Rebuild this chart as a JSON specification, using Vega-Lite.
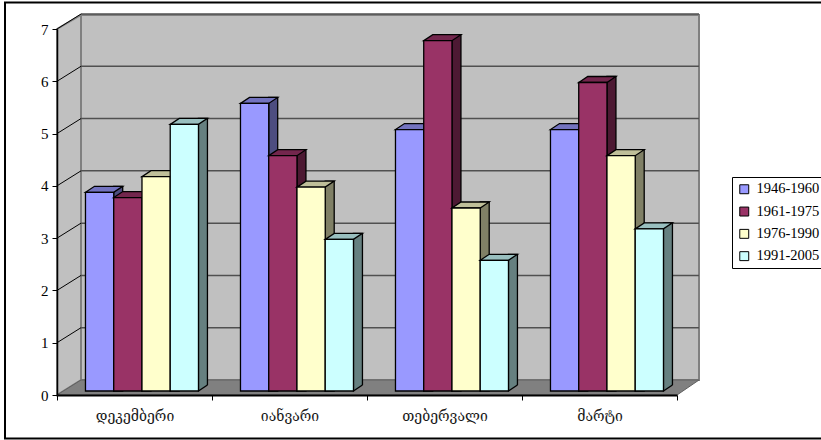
{
  "$schema": "https://vega.github.io/schema/vega-lite/v6.json",
  "width": 620,
  "height": 366,
  "autosize": "none",
  "padding": {"left": 57, "top": 29, "right": 144, "bottom": 45},
  "background": "white",
  "view": {"stroke": null},
  "config": {"font": "Liberation Serif"},
  "datasets": {
    "rain": [
      {"month": "დეკემბერი", "period": "1946-1960", "value": 3.8},
      {"month": "დეკემბერი", "period": "1961-1975", "value": 3.7},
      {"month": "დეკემბერი", "period": "1976-1990", "value": 4.1},
      {"month": "დეკემბერი", "period": "1991-2005", "value": 5.1},
      {"month": "იანვარი", "period": "1946-1960", "value": 5.5},
      {"month": "იანვარი", "period": "1961-1975", "value": 4.5},
      {"month": "იანვარი", "period": "1976-1990", "value": 3.9},
      {"month": "იანვარი", "period": "1991-2005", "value": 2.9},
      {"month": "თებერვალი", "period": "1946-1960", "value": 5.0},
      {"month": "თებერვალი", "period": "1961-1975", "value": 6.7},
      {"month": "თებერვალი", "period": "1976-1990", "value": 3.5},
      {"month": "თებერვალი", "period": "1991-2005", "value": 2.5},
      {"month": "მარტი", "period": "1946-1960", "value": 5.0},
      {"month": "მარტი", "period": "1961-1975", "value": 5.9},
      {"month": "მარტი", "period": "1976-1990", "value": 4.5},
      {"month": "მარტი", "period": "1991-2005", "value": 3.1}
    ],
    "anchor": [{"month": "დეკემბერი", "value": 0}],
    "levels": [
      {"month": "დეკემბერი", "value": 1},
      {"month": "დეკემბერი", "value": 2},
      {"month": "დეკემბერი", "value": 3},
      {"month": "დეკემბერი", "value": 4},
      {"month": "დეკემბერი", "value": 5},
      {"month": "დეკემბერი", "value": 6},
      {"month": "დეკემბერი", "value": 7}
    ]
  },
  "encoding": {
    "x": {
      "field": "month",
      "type": "nominal",
      "sort": null,
      "scale": {"domain": ["დეკემბერი", "იანვარი", "თებერვალი", "მარტი"], "paddingInner": 0, "paddingOuter": 0},
      "axis": {"title": null, "labelAngle": 0, "tickBand": "extent", "domainColor": "#000000", "domainWidth": 2, "tickColor": "#000000", "tickSize": 5, "labelFont": "DejaVu Serif", "labelFontSize": 14, "labelColor": "#1a1a1a", "labelPadding": 9, "zindex": 1}
    },
    "y": {
      "field": "value",
      "type": "quantitative",
      "scale": {"domain": [0, 7], "nice": false},
      "axis": {"title": null, "values": [0, 1, 2, 3, 4, 5, 6, 7], "grid": false, "format": "d", "domainColor": "#000000", "domainWidth": 1.5, "tickColor": "#000000", "tickSize": 5, "labelFontSize": 15, "labelColor": "#000000", "labelPadding": 4, "zindex": 1}
    }
  },
  "layer": [
    {"data": {"name": "anchor"}, "mark": {"type": "point", "filled": true, "size": 4, "opacity": 1, "fill": "#ffffff", "stroke": "#000000", "strokeWidth": 2, "shape": "M-52,-392.5 L790,-392.5 L790,43.5 L-52,43.5 Z", "xOffset": -77.5}},
    {"data": {"name": "anchor"}, "mark": {"type": "point", "filled": true, "size": 4, "opacity": 1, "fill": "#c0c0c0", "stroke": "#808080", "strokeWidth": 2, "shape": "M24,-15 L642,-15 L642,-380 L24,-380 Z", "xOffset": -77.5}},
    {"data": {"name": "anchor"}, "mark": {"type": "point", "filled": true, "size": 4, "opacity": 1, "fill": "#c0c0c0", "stroke": "#808080", "strokeWidth": 2, "shape": "M0,0 L24,-15 L24,-380 L0,-366 Z", "xOffset": -77.5}},
    {"data": {"name": "anchor"}, "mark": {"type": "point", "filled": true, "size": 4, "opacity": 1, "fill": "#808080", "stroke": "#606060", "strokeWidth": 1, "shape": "M0,0 L620,0 L642,-15 L24,-15 Z", "xOffset": -77.5}},
    {"data": {"name": "levels"}, "mark": {"type": "point", "filled": false, "size": 4, "opacity": 1, "stroke": "#505050", "strokeWidth": 1.5, "shape": "M24,-15 L642,-15", "xOffset": -77.5}},
    {"data": {"name": "levels"}, "mark": {"type": "point", "filled": false, "size": 4, "opacity": 1, "stroke": "#000000", "strokeWidth": 1, "shape": "M0,0 L24,-15", "xOffset": -77.5}},

    {"data": {"name": "rain"}, "transform": [{"filter": "datum.period === '1946-1960'"}], "mark": {"type": "bar", "width": 9, "fill": "#4d4d80", "stroke": "#000000", "strokeWidth": 1.3, "xOffset": -16.3, "yOffset": -10, "y2Offset": -4}, "encoding": {"y2": {"datum": 0}}},
    {"data": {"name": "rain"}, "transform": [{"filter": "datum.period === '1946-1960'"}], "mark": {"type": "point", "filled": true, "size": 4, "opacity": 1, "fill": "#7373bf", "stroke": "#000000", "strokeWidth": 1.3, "shape": "M-14.1,0 L14.1,0 L23.1,-6 L-5.1,-6 Z", "xOffset": -34.9, "yOffset": -4}},
    {"data": {"name": "rain"}, "transform": [{"filter": "datum.period === '1946-1960'"}], "mark": {"type": "bar", "width": 28.25, "stroke": "#000000", "strokeWidth": 1.3, "xOffset": -34.9, "yOffset": -4, "y2Offset": -4}, "encoding": {"y2": {"datum": 0}, "color": {"field": "period", "type": "nominal", "scale": {"domain": ["1946-1960", "1961-1975", "1976-1990", "1991-2005"], "range": ["#9999ff", "#993366", "#ffffcc", "#ccffff"]}, "legend": {"title": null, "orient": "none", "legendX": 675, "legendY": 148, "fillColor": "#ffffff", "strokeColor": "#000000", "padding": 5, "symbolType": "square", "symbolSize": 80, "symbolStrokeColor": "#000000", "symbolStrokeWidth": 1, "symbolOpacity": 1, "labelFontSize": 14.5, "labelColor": "#000000", "labelOffset": 5, "rowPadding": 7.3}}}},

    {"data": {"name": "rain"}, "transform": [{"filter": "datum.period === '1961-1975'"}], "mark": {"type": "bar", "width": 9, "fill": "#4d1933", "stroke": "#000000", "strokeWidth": 1.3, "xOffset": 11.95, "yOffset": -10, "y2Offset": -4}, "encoding": {"y2": {"datum": 0}}},
    {"data": {"name": "rain"}, "transform": [{"filter": "datum.period === '1961-1975'"}], "mark": {"type": "point", "filled": true, "size": 4, "opacity": 1, "fill": "#73264d", "stroke": "#000000", "strokeWidth": 1.3, "shape": "M-14.1,0 L14.1,0 L23.1,-6 L-5.1,-6 Z", "xOffset": -6.65, "yOffset": -4}},
    {"data": {"name": "rain"}, "transform": [{"filter": "datum.period === '1961-1975'"}], "mark": {"type": "bar", "width": 28.25, "stroke": "#000000", "strokeWidth": 1.3, "xOffset": -6.65, "yOffset": -4, "y2Offset": -4}, "encoding": {"y2": {"datum": 0}, "color": {"field": "period", "type": "nominal"}}},

    {"data": {"name": "rain"}, "transform": [{"filter": "datum.period === '1976-1990'"}], "mark": {"type": "bar", "width": 9, "fill": "#808066", "stroke": "#000000", "strokeWidth": 1.3, "xOffset": 40.2, "yOffset": -10, "y2Offset": -4}, "encoding": {"y2": {"datum": 0}}},
    {"data": {"name": "rain"}, "transform": [{"filter": "datum.period === '1976-1990'"}], "mark": {"type": "point", "filled": true, "size": 4, "opacity": 1, "fill": "#bfbf99", "stroke": "#000000", "strokeWidth": 1.3, "shape": "M-14.1,0 L14.1,0 L23.1,-6 L-5.1,-6 Z", "xOffset": 21.6, "yOffset": -4}},
    {"data": {"name": "rain"}, "transform": [{"filter": "datum.period === '1976-1990'"}], "mark": {"type": "bar", "width": 28.25, "stroke": "#000000", "strokeWidth": 1.3, "xOffset": 21.6, "yOffset": -4, "y2Offset": -4}, "encoding": {"y2": {"datum": 0}, "color": {"field": "period", "type": "nominal"}}},

    {"data": {"name": "rain"}, "transform": [{"filter": "datum.period === '1991-2005'"}], "mark": {"type": "bar", "width": 9, "fill": "#668080", "stroke": "#000000", "strokeWidth": 1.3, "xOffset": 68.45, "yOffset": -10, "y2Offset": -4}, "encoding": {"y2": {"datum": 0}}},
    {"data": {"name": "rain"}, "transform": [{"filter": "datum.period === '1991-2005'"}], "mark": {"type": "point", "filled": true, "size": 4, "opacity": 1, "fill": "#808080", "strokeWidth": 0, "shape": "M14.1,0 L23.1,-6 L25.1,-6 L25.1,1 L14.1,1 Z", "xOffset": 49.85, "yOffset": -4}, "encoding": {"y": {"datum": 0}}},
    {"data": {"name": "rain"}, "transform": [{"filter": "datum.period === '1991-2005'"}], "mark": {"type": "point", "filled": false, "size": 4, "opacity": 1, "stroke": "#000000", "strokeWidth": 1.3, "shape": "M14.1,0 L23.1,-6", "xOffset": 49.85, "yOffset": -4}, "encoding": {"y": {"datum": 0}}},
    {"data": {"name": "rain"}, "transform": [{"filter": "datum.period === '1991-2005'"}], "mark": {"type": "point", "filled": true, "size": 4, "opacity": 1, "fill": "#99bfbf", "stroke": "#000000", "strokeWidth": 1.3, "shape": "M-14.1,0 L14.1,0 L23.1,-6 L-5.1,-6 Z", "xOffset": 49.85, "yOffset": -4}},
    {"data": {"name": "rain"}, "transform": [{"filter": "datum.period === '1991-2005'"}], "mark": {"type": "bar", "width": 28.25, "stroke": "#000000", "strokeWidth": 1.3, "xOffset": 49.85, "yOffset": -4, "y2Offset": -4}, "encoding": {"y2": {"datum": 0}, "color": {"field": "period", "type": "nominal"}}}
  ]
}
